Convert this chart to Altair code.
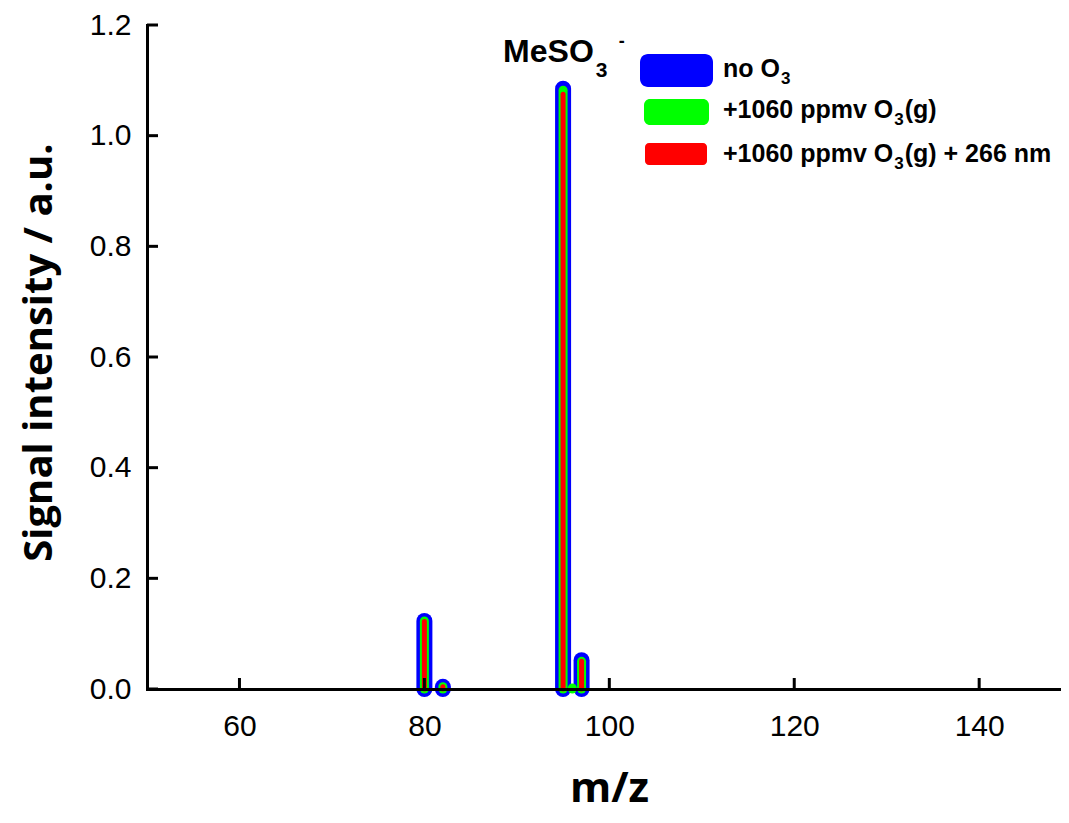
import altair as alt
import pandas as pd

# ---- data ----
series = ["no O3", "+1060 ppmv O3(g)", "+1060 ppmv O3(g) + 266 nm"]
# label pieces: text before subscript, subscript, text after subscript
label_pre = ["no O", "+1060 ppmv O", "+1060 ppmv O"]
label_sub = ["3", "3", "3"]
label_post = ["", "(g)", "(g) + 266 nm"]
colors = ["#0000ff", "#00ff00", "#ff0000"]

mz_no_o3 = [80, 82, 95, 97]
int_no_o3 = [0.123, 0.004, 1.085, 0.052]

mz_o3 = [80, 82, 95, 96, 97]
int_o3 = [0.123, 0.004, 1.082, 0.002, 0.050]

mz_o3_uv = [80, 82, 95, 97]
int_o3_uv = [0.122, 0.004, 1.075, 0.050]

x_ticks = [60, 80, 100, 120, 140]
y_ticks = [0.0, 0.2, 0.4, 0.6, 0.8, 1.0, 1.2]

annot_mz = [95]
annot_int = [1.133]
annot_main = ["MeSO"]
annot_sub = ["3"]
annot_sup = ["-"]

# Arial/Liberation Sans Bold advance widths (per 1000 em) for placing sub-texts
ADV = {"+": 584, "1": 556, "0": 556, "6": 556, "2": 556, "3": 556, " ": 278,
       "p": 611, "m": 889, "v": 556, "O": 778, "n": 611, "o": 611, "(": 333,
       "g": 611, ")": 333, "M": 833, "e": 556, "S": 667, "-": 333}


def text_w(s, size):
    return sum(ADV.get(c, 556) for c in s) / 1000.0 * size


# ---- build tables ----
frames = []
for name, mzs, vals in zip(series, [mz_no_o3, mz_o3, mz_o3_uv],
                           [int_no_o3, int_o3, int_o3_uv]):
    frames.append(pd.DataFrame({"mz": mzs, "intensity": vals,
                                "base": [0.0] * len(mzs), "series": name}))
df = pd.concat(frames, ignore_index=True)

W, H = 914, 664
x_scale = alt.Scale(domain=[50, 148.85], nice=False, zero=False)
y_scale = alt.Scale(domain=[0, 1.2], nice=False)

x_axis = alt.Axis(title="m/z", values=x_ticks, format="d", ticks=False, grid=False,
                  domainWidth=3, domainColor="black", domainCap="square",
                  labelFont="Liberation Sans", labelFontSize=30, labelColor="black",
                  labelPadding=22,
                  titleFont="Open Sans", titleFontWeight="bold", titleFontSize=42,
                  titleColor="black", titleX=462, titleY=112,
                  titleAlign="center", titleBaseline="alphabetic", zindex=1)
y_axis = alt.Axis(title="Signal intensity / a.u.", values=y_ticks, format=".1f",
                  ticks=False, grid=False,
                  domainWidth=3, domainColor="black", domainCap="square",
                  labelFont="Liberation Sans", labelFontSize=30, labelColor="black",
                  labelPadding=16,
                  titleFont="Open Sans", titleFontWeight="bold", titleFontSize=40,
                  titleColor="black", titleAngle=270, titleX=-96, titleY=H / 2 - 5,
                  titleAlign="center", titleBaseline="alphabetic", zindex=1)

X = alt.X("mz:Q", scale=x_scale, axis=x_axis)
Y = alt.Y("intensity:Q", scale=y_scale, axis=y_axis)

layers = []
widths = [16, 9, 5]
for name, col, w in zip(series, colors, widths):
    layers.append(
        alt.Chart(df).transform_filter(alt.datum.series == name)
        .mark_rule(color=col, strokeWidth=w, strokeCap="round")
        .encode(x=X, y=Y, y2="base:Q")
    )

# inward ticks
layers.append(
    alt.Chart(pd.DataFrame({"mz": x_ticks})).mark_rule(color="black", strokeWidth=3)
    .encode(x=X, y=alt.value(H), y2=alt.value(H - 11))
)
layers.append(
    alt.Chart(pd.DataFrame({"intensity": y_ticks})).mark_rule(color="black", strokeWidth=3)
    .encode(y=Y, x=alt.value(0), x2=alt.value(11))
)

# peak annotation  MeSO3^-
ann = pd.DataFrame({"mz": annot_mz, "intensity": annot_int,
                    "main": annot_main, "sub": annot_sub, "sup": annot_sup})
A_SIZE = 32
a_dx = -60
layers.append(
    alt.Chart(ann).mark_text(font="Liberation Sans", fontWeight="bold", fontSize=A_SIZE,
                             align="left", baseline="alphabetic", dx=a_dx, color="black")
    .encode(x=X, y=Y, text="main:N")
)
sub_dx = a_dx + text_w(annot_main[0], A_SIZE) + 2
layers.append(
    alt.Chart(ann).mark_text(font="Liberation Sans", fontWeight="bold", fontSize=21,
                             align="left", baseline="alphabetic", dx=sub_dx, dy=15,
                             color="black")
    .encode(x=X, y=Y, text="sub:N")
)
layers.append(
    alt.Chart(ann).mark_text(font="Liberation Sans", fontWeight="bold", fontSize=18,
                             align="left", baseline="alphabetic", dx=sub_dx + 23, dy=-15,
                             color="black")
    .encode(x=X, y=Y, text="sup:N")
)

# legend (drawn manually)
leg_rects = [(493, 566, 29, 62, 8), (497, 562, 74, 100, 6), (498, 560, 118, 140, 4)]
leg_base = [52, 93, 137]
L_SIZE = 25
S_SIZE = 17
LX = 576
for i, (name, col, (x1, x2, y1, y2, r), yb) in enumerate(
        zip(series, colors, leg_rects, leg_base)):
    ldf = pd.DataFrame({"pre": [label_pre[i]], "sub": [label_sub[i]],
                        "post": [label_post[i]]})
    layers.append(
        alt.Chart(ldf).mark_rect(color=col, cornerRadius=r)
        .encode(x=alt.value(x1), x2=alt.value(x2), y=alt.value(y1), y2=alt.value(y2))
    )
    w_pre = text_w(label_pre[i], L_SIZE)
    w_sub = text_w(label_sub[i], S_SIZE)
    for field, size, dx, dy in [("pre", L_SIZE, 0, 0),
                                ("sub", S_SIZE, w_pre + 1, 7),
                                ("post", L_SIZE, w_pre + w_sub + 2, 0)]:
        layers.append(
            alt.Chart(ldf).mark_text(font="Liberation Sans", fontWeight="bold",
                                     fontSize=size, align="left", baseline="alphabetic",
                                     color="black", dx=dx, dy=dy)
            .encode(x=alt.value(LX), y=alt.value(yb), text=f"{field}:N")
        )

chart = (
    alt.layer(*layers)
    .properties(width=W, height=H, autosize=alt.AutoSizeParams(type="none"),
                padding={"left": 139, "top": 17, "right": 0, "bottom": 124},
                background="white")
    .configure_view(stroke=None)
)

chart.save("out.html", embed_options={"renderer": "svg", "actions": False})
